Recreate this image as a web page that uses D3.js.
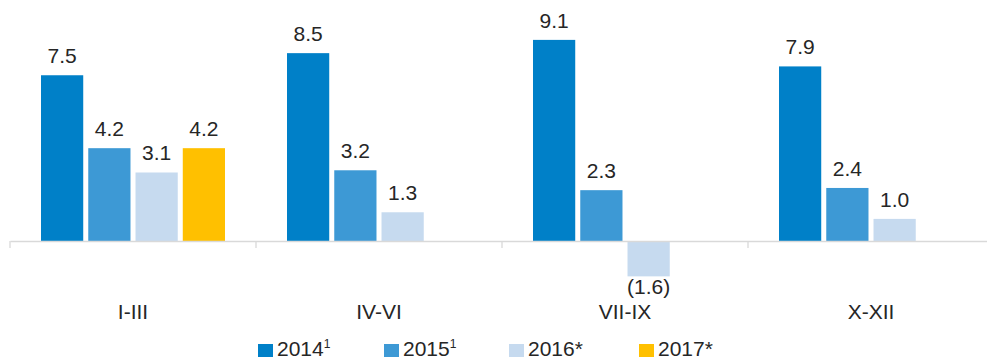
<!DOCTYPE html>
<html>
<head>
<meta charset="utf-8">
<script src="https://cdn.jsdelivr.net/npm/d3@7"></script>
<style>
  html, body { margin: 0; padding: 0; background: #fff; }
  svg { display: block; }
  text { font-family: "Liberation Sans", Arial, sans-serif; fill: #262626; }
</style>
</head>
<body>
<svg id="chart" width="987" height="357"></svg>
<script>
// Quarterly growth, by year
const quarters = ["I-III", "IV-VI", "VII-IX", "X-XII"];
const seriesNames = ["2014", "2015", "2016", "2017"];
const seriesMarks = ["1", "1", "*", "*"];
const seriesColors = ["#0080c8", "#3d99d5", "#c6daef", "#ffc000"];
const values2014 = [7.5, 8.5, 9.1, 7.9];
const values2015 = [4.2, 3.2, 2.3, 2.4];
const values2016 = [3.1, 1.3, -1.6, 1.0];
const values2017 = [4.2, null, null, null];
const seriesValues = [values2014, values2015, values2016, values2017];

const svg = d3.select("#chart");
const fontSize = 21;

const x0 = d3.scaleBand().domain(quarters).range([10, 994]).padding(0);
const x1 = d3.scaleBand().domain(seriesNames).range([31, 215]).paddingInner(5 / 47).paddingOuter(0);
const y = d3.scaleLinear().domain([0, 10]).range([241, 20]);

const fmt = v => v < 0 ? "(" + d3.format(".1f")(-v) + ")" : d3.format(".1f")(v);

// bars and value labels
const groups = svg.append("g").selectAll("g")
  .data(quarters)
  .join("g")
  .attr("transform", d => `translate(${x0(d)},0)`);

groups.each(function(q, qi) {
  const g = d3.select(this);
  const items = seriesNames.map((s, si) => ({ s, si, v: seriesValues[si][qi] }))
    .filter(d => d.v !== null);
  g.selectAll("rect").data(items).join("rect")
    .attr("x", d => x1(d.s))
    .attr("width", x1.bandwidth())
    .attr("y", d => y(Math.max(0, d.v)))
    .attr("height", d => Math.abs(y(d.v) - y(0)))
    .attr("fill", d => seriesColors[d.si]);
  g.selectAll("text").data(items).join("text")
    .attr("x", d => x1(d.s) + x1.bandwidth() / 2)
    .attr("y", d => d.v >= 0 ? y(d.v) - 12 : y(d.v) + 18)
    .attr("text-anchor", "middle")
    .style("font-size", fontSize + "px")
    .text(d => fmt(d.v));
});

// category axis
const axis = d3.axisBottom(x0).tickSize(0).tickFormat("");
const axisG = svg.append("g").attr("transform", `translate(0,${y(0)})`).call(axis);
axisG.select(".domain").attr("stroke", "#d9d9d9").attr("stroke-width", 1.3);
axisG.selectAll(".tick").remove();

const bounds = quarters.map(q => x0(q)).concat([x0.range()[1]]);
svg.append("g").selectAll("line").data(bounds).join("line")
  .attr("x1", d => d).attr("x2", d => d)
  .attr("y1", y(0)).attr("y2", y(0) + 7)
  .attr("stroke", "#d9d9d9").attr("stroke-width", 1.3);

svg.append("g").selectAll("text").data(quarters).join("text")
  .attr("x", d => x0(d) + x0.bandwidth() / 2)
  .attr("y", 319)
  .attr("text-anchor", "middle")
  .style("font-size", fontSize + "px")
  .text(d => d);

// legend
const legendX = [258, 384, 509, 639];
const legend = svg.append("g").selectAll("g").data(seriesNames).join("g")
  .attr("transform", (d, i) => `translate(${legendX[i]},0)`);
legend.append("rect")
  .attr("x", 0).attr("y", 344).attr("width", 15).attr("height", 14)
  .attr("fill", (d, i) => seriesColors[i]);
legend.append("text")
  .attr("x", 19).attr("y", 356)
  .style("font-size", fontSize + "px")
  .each(function(d, i) {
    const t = d3.select(this);
    t.append("tspan").text(d);
    if (seriesMarks[i] === "1") {
      t.append("tspan").attr("dy", -8).style("font-size", "12px").text("1");
    } else {
      t.append("tspan").text(seriesMarks[i]);
    }
  });
</script>
</body>
</html>
